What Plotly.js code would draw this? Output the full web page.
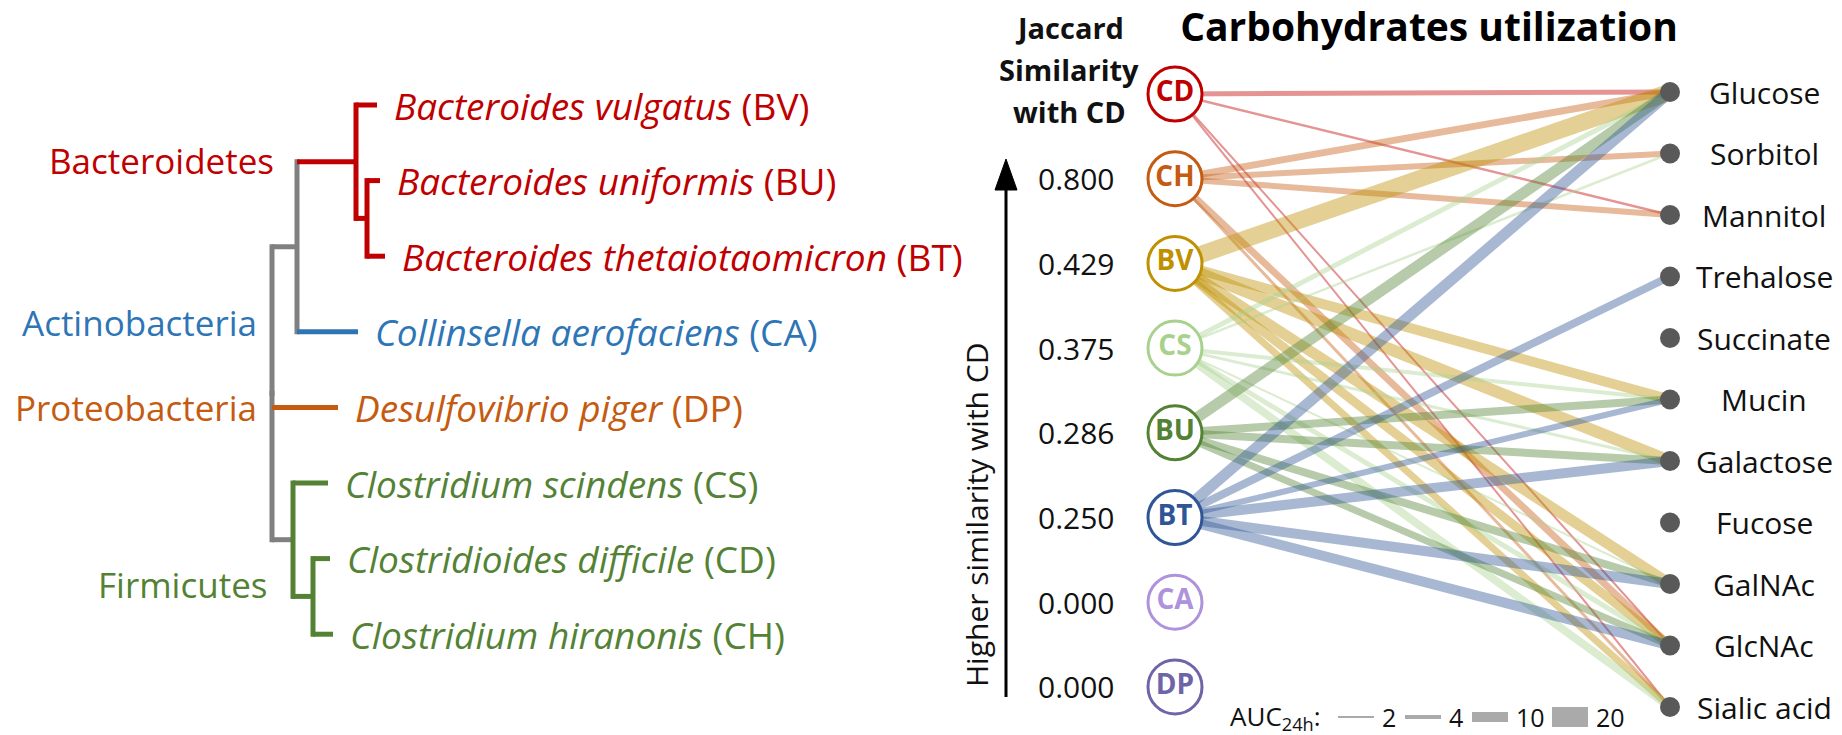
<!DOCTYPE html>
<html><head><meta charset="utf-8">
<script src="https://cdn.plot.ly/plotly-3.0.1.min.js"></script>
<style>html,body{margin:0;padding:0;background:#fff;}#chart{width:1842px;height:735px;}</style>
</head><body><div id="chart"></div>
<script>
// ================= DATA =================
// phylogenetic tree (branch lengths in arbitrary units)
const treeNewick = "((((BV:21,(BU:13,BT:18)BUBT:11)Bacteroidetes:59,CA:61)Upper:25,DP:66,(CS:35,(CD:17,CH:20)CDCH:20)Firmicutes:21)Root;";
const leafCodes  = ['BV','BU','BT','CA','DP','CS','CD','CH'];
const leafNames  = ['Bacteroides vulgatus','Bacteroides uniformis','Bacteroides thetaiotaomicron','Collinsella aerofaciens','Desulfovibrio piger','Clostridium scindens','Clostridioides difficile','Clostridium hiranonis'];
const leafPhylum = ['Bacteroidetes','Bacteroidetes','Bacteroidetes','Actinobacteria','Proteobacteria','Firmicutes','Firmicutes','Firmicutes'];
const phyla        = ['Bacteroidetes','Actinobacteria','Proteobacteria','Firmicutes'];
const phylumColors = ['#C00000','#2E75B6','#C55A11','#548235'];

// bipartite network
const speciesOrder  = ['CD','CH','BV','CS','BU','BT','CA','DP'];
const jaccardWithCD = [null, 0.800, 0.429, 0.375, 0.286, 0.250, 0.000, 0.000];
const speciesColors = ['#C00000','#C55A11','#BF9000','#A9D18E','#548235','#2F5597','#AE93DC','#6E64A8'];
const carbs = ['Glucose','Sorbitol','Mannitol','Trehalose','Succinate','Mucin','Galactose','Fucose','GalNAc','GlcNAc','Sialic acid'];
// AUC24h of each species on each carbohydrate (0 = not used)
const aucCD = [5, 0, 2.5, 0, 0, 0, 0, 0, 0, 2, 2];
const aucCH = [7, 6, 6, 0, 0, 0, 0, 0, 0, 7, 3];
const aucBV = [17, 0, 0, 0, 0, 10, 12, 0, 11, 9, 7];
const aucCS = [5, 2.5, 0, 0, 0, 4, 3, 0, 2, 5, 8];
const aucBU = [11, 0, 0, 0, 0, 8, 8, 0, 8, 7, 0];
const aucBT = [11, 0, 0, 8, 0, 6, 10, 0, 10, 10, 0];
const aucCA = [0, 0, 0, 0, 0, 0, 0, 0, 0, 0, 0];
const aucDP = [0, 0, 0, 0, 0, 0, 0, 0, 0, 0, 0];
const legendAUC = [2, 4, 10, 20];

// ================= LAYOUT CONSTANTS =================
const W = 1842, H = 735;
const FONT = 'Open Sans, Noto Sans, sans-serif';
const treeRootX = 272, treeScale = 1, leafTop = 105, leafStep = 75.6, treeLW = 5, GREY = '#808080';
const greyStemNodes = ['Firmicutes'];
const phylumLabelPos = {Bacteroidetes:[276,160], Actinobacteria:[259,322], Proteobacteria:[259,407], Firmicutes:[269,584]};
const speciesX = 1175, specTop = 94, specStep = 84.7;
const carbX = 1670, carbTop = 92, carbStep = 61.5, carbLabelX = 1764;
const edgeAlpha = 0.42, widthPerAUC = 1;

// ================= TREE =================
function parseNewick(s){
  let i = 0;
  function node(){
    const n = {children: []};
    if (s[i] === '('){ i++; n.children.push(node()); while (s[i] === ','){ i++; n.children.push(node()); } i++; }
    let name = ''; while (i < s.length && !',():;'.includes(s[i])) name += s[i++];
    n.name = name; n.len = 0;
    if (s[i] === ':'){ i++; let num = ''; while (i < s.length && !',();'.includes(s[i])) num += s[i++]; n.len = parseFloat(num); }
    return n;
  }
  return node();
}
const root = parseNewick(treeNewick);
function place(n, px){
  n.x = px + n.len * treeScale;
  if (!n.children.length){
    const k = leafCodes.indexOf(n.name);
    n.y = leafTop + k * leafStep; n.phyla = [leafPhylum[k]]; n.leaf = k;
  } else {
    n.children.forEach(c => place(c, n.x));
    n.y = (n.children[0].y + n.children[n.children.length-1].y) / 2;
    n.phyla = [...new Set(n.children.flatMap(c => c.phyla))];
  }
  n.color = n.phyla.length === 1 ? phylumColors[phyla.indexOf(n.phyla[0])] : GREY;
  n.stemColor = greyStemNodes.includes(n.name) ? GREY : n.color;
}
root.len = 0; place(root, treeRootX);
const segs = {};
function addSeg(col, x0, y0, x1, y1){ (segs[col] = segs[col] || {x:[], y:[]}); segs[col].x.push(x0, x1, null); segs[col].y.push(y0, y1, null); }
const leaves = [];
(function walk(n){
  if (!n.children.length){ leaves.push(n); return; }
  const a = n.children[0].y, b = n.children[n.children.length-1].y;
  addSeg(n.color, n.x, a - treeLW/2, n.x, b + treeLW/2);
  n.children.forEach(c => { addSeg(c.stemColor, n.x, c.y, c.x, c.y); walk(c); });
})(root);

const traces = [];
Object.keys(segs).forEach(col => traces.push({type:'scatter', mode:'lines', x:segs[col].x, y:segs[col].y,
  line:{color:col, width:treeLW}, hoverinfo:'skip'}));

const annotations = [];
leaves.forEach(n => {
  const k = n.leaf;
  annotations.push({x:n.x + 15, y:n.y, xref:'x', yref:'y', xanchor:'left', yanchor:'middle', showarrow:false,
    text:'<i>' + leafNames[k] + '</i> (' + leafCodes[k] + ')',
    font:{family:FONT, size:37, color:phylumColors[phyla.indexOf(leafPhylum[k])]}});
});
phyla.forEach((p, i) => annotations.push({x:phylumLabelPos[p][0], y:phylumLabelPos[p][1], xref:'x', yref:'y',
  xanchor:'right', yanchor:'middle', showarrow:false, text:p, font:{family:FONT, size:35, color:phylumColors[i]}}));

// ================= NETWORK =================
const aucTable = [aucCD, aucCH, aucBV, aucCS, aucBU, aucBT, aucCA, aucDP];
const sy = i => specTop + i * specStep;
const cy = j => carbTop + j * carbStep;
function rgba(hex, a){ const v = parseInt(hex.slice(1), 16); return 'rgba(' + (v>>16) + ',' + ((v>>8)&255) + ',' + (v&255) + ',' + a + ')'; }
aucTable.forEach((row, i) => row.forEach((v, j) => {
  if (v > 0) traces.push({type:'scatter', mode:'lines', x:[speciesX, carbX], y:[sy(i), cy(j)],
    line:{color:rgba(speciesColors[i], edgeAlpha), width:v * widthPerAUC}, hoverinfo:'skip'});
}));
// species nodes
traces.push({type:'scatter', mode:'markers+text', x:speciesOrder.map(() => speciesX), y:speciesOrder.map((s, i) => sy(i)),
  text:speciesOrder, textposition:'middle center',
  textfont:{family:FONT, size:28, weight:700, color:speciesColors},
  marker:{size:54, color:'#ffffff', line:{width:3, color:speciesColors}}, hoverinfo:'skip'});
// carbohydrate nodes
traces.push({type:'scatter', mode:'markers', x:carbs.map(() => carbX), y:carbs.map((c, j) => cy(j)),
  marker:{size:20, color:'#595959'}, hoverinfo:'skip'});
carbs.forEach((c, j) => annotations.push({x:carbLabelX, y:cy(j), xref:'x', yref:'y', xanchor:'center', yanchor:'middle',
  showarrow:false, text:c, font:{family:FONT, size:30, color:'#111'}}));
// Jaccard values
jaccardWithCD.forEach((v, i) => { if (v !== null) annotations.push({x:speciesX - 58, y:sy(i), xref:'x', yref:'y',
  xanchor:'right', yanchor:'middle', showarrow:false, text:v.toFixed(3), font:{family:FONT, size:30, color:'#111'}}); });
['Jaccard','Similarity','with CD'].forEach((t, k) => annotations.push({x:1069, y:[27, 69, 111][k], xref:'x', yref:'y',
  xanchor:'center', yanchor:'middle', showarrow:false, text:t, font:{family:FONT, size:29, weight:700, color:'#111'}}));
annotations.push({x:976, y:515, xref:'x', yref:'y', textangle:-90, showarrow:false, xanchor:'center', yanchor:'middle',
  text:'Higher similarity with CD', font:{family:FONT, size:30, color:'#111'}});
// AUC legend
annotations.push({x:1228, y:717, xref:'x', yref:'y', xanchor:'left', yanchor:'middle', showarrow:false,
  text:'AUC<sub>24h</sub>:', font:{family:FONT, size:26, color:'#111'}});
const legStart = [1338, 1405, 1472, 1552], legLen = 36;
legendAUC.forEach((v, k) => {
  traces.push({type:'scatter', mode:'lines', x:[legStart[k], legStart[k] + legLen], y:[717, 717],
    line:{color:'#aaaaaa', width:v * widthPerAUC}, hoverinfo:'skip'});
  annotations.push({x:legStart[k] + legLen + 6, y:717, xref:'x', yref:'y', xanchor:'left', yanchor:'middle', showarrow:false,
    text:String(v), font:{family:FONT, size:25, color:'#111'}});
});

const arrowX = 1006;
const shapes = [
  {type:'line', xref:'x', yref:'y', x0:arrowX, x1:arrowX, y0:697, y1:185, line:{color:'#000', width:3}},
  {type:'path', xref:'x', yref:'y', path:'M ' + (arrowX-11) + ' 190 L ' + arrowX + ' 159 L ' + (arrowX+11) + ' 190 Z',
   fillcolor:'#000', line:{color:'#000', width:1}}
];

const layout = {
  width:W, height:H, margin:{l:0, r:0, t:0, b:0}, paper_bgcolor:'#fff', plot_bgcolor:'#fff', showlegend:false,
  title:{text:'Carbohydrates utilization', font:{family:FONT, size:39, weight:700, color:'#000'},
    x:1429/W, xanchor:'center', y:1 - 27/H, yanchor:'middle', xref:'paper', yref:'container'},
  xaxis:{range:[0, W], visible:false, fixedrange:true},
  yaxis:{range:[H, 0], visible:false, fixedrange:true},
  annotations:annotations, shapes:shapes
};
Plotly.newPlot('chart', traces, layout, {staticPlot:true, displayModeBar:false});
</script></body></html>
